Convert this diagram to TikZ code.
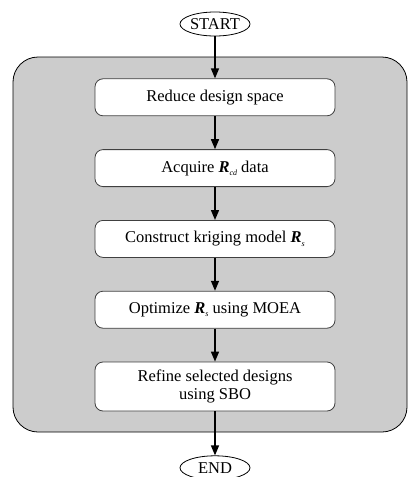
\documentclass[tikz,border=0pt]{standalone}
\usepackage{fontspec}
\setmainfont{Liberation Serif}
\usepackage{tikz}
\usetikzlibrary{positioning,shapes,arrows.meta,backgrounds}
\definecolor{panelgray}{rgb}{0.8,0.8,0.8}
\definecolor{edgegray}{rgb}{0.25,0.25,0.25}
\newcommand{\sub}[1]{\raisebox{-0.45ex}{\fontsize{8}{8}\selectfont\itshape #1}}
\newcommand{\bR}{{\bfseries\itshape R}}
\tikzstyle{st}=[%
      ellipse, draw=black, thick, fill=white,
      inner xsep=-4pt, inner ysep=0pt, minimum width=70pt, minimum height=24pt
]
\tikzstyle{pr}=[%
      rectangle, rounded corners=8pt, draw=edgegray, thick, fill=white,
      minimum width=240pt, minimum height=37pt, align=center
]
\tikzstyle{bg}=[%
      rectangle, rounded corners=25pt, draw=black, thick, fill=panelgray
]

\begin{document}
\begin{tikzpicture}[x=1pt, y=1pt,
    font=\fontsize{16.5}{18}\selectfont,
    node distance=33pt,
    -{Triangle[length=10pt,width=8pt]}
  ]
    \useasboundingbox (0,0) rectangle (408,-477);

    \node[st]          (s) at (215,-24)           {START};
    \node[pr]          (1) [below = 42pt of s]    {Reduce design space};
    \node[pr]          (2) [below = of 1]         {Acquire \bR\sub{cd} data};
    \node[pr]          (3) [below = of 2]         {Construct kriging model \bR\sub{s}};
    \node[pr]          (4) [below = of 3]         {Optimize \bR\sub{s} using MOEA};
    \node[pr, minimum height=49pt] (5) [below = of 4] {Refine selected designs\\using SBO};
    \node[st]          (e) [below = 44pt of 5]    {END};

    \begin{scope}[on background layer]
      \path[bg, -] (13,-57) rectangle (407,-432);
    \end{scope}

    \path[line width=1.4pt]
          (s) edge (1)
          (1) edge (2)
          (2) edge (3)
          (3) edge (4)
          (4) edge (5)
          (5) edge (e)
    ;

  \end{tikzpicture}
\end{document}
